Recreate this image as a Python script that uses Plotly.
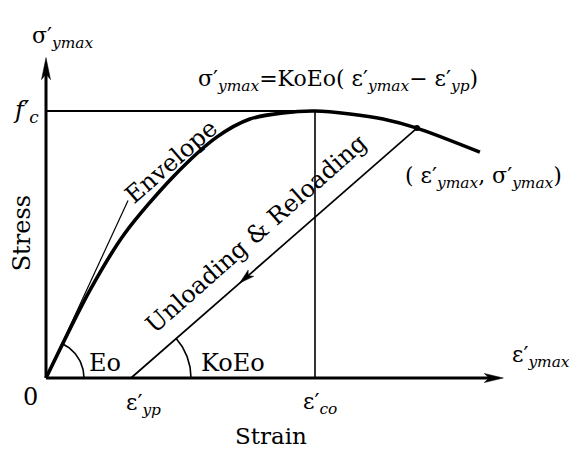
import math
import plotly.graph_objects as go

# Envelope curve in normalised units (strain / ε'co, stress / f'c)
env_strain = [0.0, 0.164, 0.294, 0.472, 0.636, 0.758, 0.881, 1.0, 1.130, 1.253, 1.379, 1.613]
env_stress = [0.0, 0.330, 0.543, 0.753, 0.903, 0.970, 0.993, 1.0, 0.989, 0.970, 0.936, 0.846]

eps_co = 1.0          # strain at peak stress
f_c = 1.0             # peak stress
eps_yp = 0.316        # residual (plastic) strain
unload_idx = 10       # envelope point (ε'ymax, σ'ymax) where unloading starts
eo_slope = 2.18       # initial tangent modulus Eo
eo_leader_end = 0.305 # end of the tangent line used as the "Envelope" leader
x_axis_end = 1.70
y_axis_end = 1.20

# pixels per data unit, so arcs and arrow heads keep their screen shape
W, H = 573, 452
PX, PY = 269.0, 267.0
X0, Y0 = 46.0, 378.0
xr = [-X0 / PX, (W - X0) / PX]
yr = [-(H - Y0) / PY, Y0 / PY]

FONT = "DejaVu Serif"
INK = "black"

fig = go.Figure()


def line(xs, ys, width, shape="linear"):
    fig.add_trace(go.Scatter(x=xs, y=ys, mode="lines",
                             line=dict(color=INK, width=width, shape=shape, smoothing=0.8),
                             hoverinfo="skip", showlegend=False))


def arc(cx, cy, r, a0, a1, width=1.6, n=40):
    ts = [a0 + (a1 - a0) * i / (n - 1) for i in range(n)]
    xs = [cx + r * math.cos(t) / PX for t in ts]
    ys = [cy + r * math.sin(t) / PY for t in ts]
    line(xs, ys, width)


def head(xt, yt, ux, uy, length, half, notch=0.25):
    """Filled arrow head with its tip at (xt, yt), pointing along screen vector (ux, uy)."""
    n = math.hypot(ux, uy)
    ux, uy = ux / n, uy / n
    vx, vy = -uy, ux
    pts = [
        (0, 0),
        (-length * ux + half * vx, -length * uy + half * vy),
        (-length * (1 - notch) * ux, -length * (1 - notch) * uy),
        (-length * ux - half * vx, -length * uy - half * vy),
    ]
    path = "M " + " L ".join(f"{xt + px / PX:.5f},{yt + py / PY:.5f}" for px, py in pts) + " Z"
    fig.add_shape(type="path", path=path, fillcolor=INK, line=dict(color=INK, width=0.5),
                  xref="x", yref="y")


def label(x, y, text, size=22, angle=0, xanchor="center", yanchor="middle"):
    fig.add_annotation(x=x, y=y, text=text, showarrow=False, textangle=angle,
                       xanchor=xanchor, yanchor=yanchor,
                       font=dict(family=FONT, size=size, color=INK))


# axes with arrows
line([0, x_axis_end - 10 / PX], [0, 0], 3)
line([0, 0], [0, y_axis_end - 10 / PY], 3)
head(x_axis_end, 0, 1, 0, 19, 4.5)
head(0, y_axis_end, 0, 1, 22, 4.5)

# peak stress level and peak strain
line([0, eps_co], [f_c, f_c], 2)
line([eps_co, eps_co], [0, f_c], 1.6)

# initial tangent (leader for the envelope label)
line([0, eo_leader_end], [0, eo_slope * eo_leader_end], 1.2)

# envelope curve
line(env_strain, env_stress, 3.6, shape="spline")

# unloading / reloading branch
ux_, uy_ = env_strain[unload_idx], env_stress[unload_idx]
line([eps_yp, ux_], [0, uy_], 1.7)
fig.add_trace(go.Scatter(x=[ux_], y=[uy_], mode="markers",
                         marker=dict(color=INK, size=6), hoverinfo="skip", showlegend=False))
frac = 0.38
ax_ = eps_yp + frac * (ux_ - eps_yp)
ay_ = frac * uy_
head(ax_, ay_, -(ux_ - eps_yp) * PX, -uy_ * PY, 15, 4.2)

# modulus arcs
theta_eo = math.atan2(eo_slope * PY, PX)
arc(0, 0, 38, 0, theta_eo)
theta_k = math.atan2(uy_ * PY, (ux_ - eps_yp) * PX)
arc(eps_yp, 0, 60, 0, theta_k)

# text
sub = lambda s: f"<sub><i>{s}</i></sub>"
label(1.084, 1.115, f"σ′{sub('ymax')}=KoEo( ε′{sub('ymax')}− ε′{sub('yp')})")
label(0.062, 1.275, f"σ′{sub('ymax')}")
label(-0.075, 1.0, f"<i>f</i>′{sub('c')}", size=24)
label(-0.058, -0.072, "0", size=24)
label(0.364, -0.098, f"ε′{sub('yp')}")
label(1.02, -0.094, f"ε′{sub('co')}")
label(1.84, 0.08, f"ε′{sub('ymax')}")
label(1.625, 0.75, f"( ε′{sub('ymax')}, σ′{sub('ymax')})")
label(0.219, 0.056, "Eo", size=24)
label(0.697, 0.056, "KoEo", size=24)
label(-0.088, 0.543, "Stress", size=24, angle=-90)
label(0.836, -0.218, "Strain", size=23)
label(0.463, 0.81, "Envelope", size=24, angle=-41)
label(0.781, 0.538, "Unloading & Reloading", size=24, angle=-41.5)

fig.update_layout(
    width=W, height=H,
    margin=dict(l=0, r=0, t=0, b=0),
    paper_bgcolor="white", plot_bgcolor="white",
    xaxis=dict(range=xr, visible=False, fixedrange=True),
    yaxis=dict(range=yr, visible=False, fixedrange=True),
    showlegend=False,
)

fig.write_html("out.html")
